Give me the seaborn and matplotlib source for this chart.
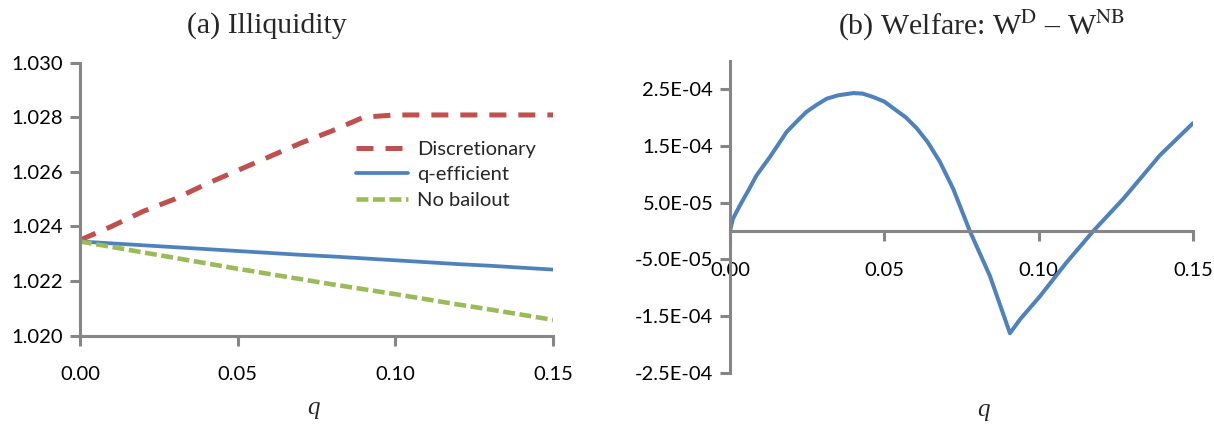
import numpy as np
import pandas as pd
import matplotlib
matplotlib.use("Agg")
import matplotlib.pyplot as plt
import seaborn as sns
from matplotlib.ticker import FuncFormatter, FixedLocator

# Dados (a) Iliquidez
q_grid = [0.00, 0.01, 0.02, 0.03, 0.04, 0.05, 0.06, 0.07,
          0.08, 0.09, 0.10, 0.11, 0.12, 0.13, 0.14, 0.15]
discretionary = [1.02350, 1.02400, 1.02455, 1.02500, 1.02555, 1.02605, 1.02655, 1.02705,
                 1.02750, 1.02800, 1.02808, 1.02808, 1.02808, 1.02808, 1.02808, 1.02808]
q_efficient = [1.02345, 1.02338, 1.02331, 1.02324, 1.02317, 1.02310, 1.02303, 1.02296,
               1.02290, 1.02283, 1.02276, 1.02269, 1.02262, 1.02256, 1.02249, 1.02242]
no_bailout = [1.02345, 1.02325, 1.02305, 1.02285, 1.02265, 1.02245, 1.02226, 1.02207,
              1.02188, 1.02170, 1.02152, 1.02133, 1.02114, 1.02096, 1.02077, 1.02058]

# Dados (b) Bem-estar W^D - W^NB
q_welfare = [0.0000, 0.0009, 0.0032, 0.0060, 0.0086, 0.0130, 0.0184, 0.0220, 0.0248,
             0.0280, 0.0313, 0.0350, 0.0400, 0.0430, 0.0464, 0.0500, 0.0540, 0.0570,
             0.0605, 0.0640, 0.0680, 0.0723, 0.0777, 0.0842, 0.0907, 0.0939, 0.1004,
             0.1090, 0.1177, 0.1274, 0.1393, 0.1500]
welfare = [0.00e-4, 0.21e-4, 0.45e-4, 0.72e-4, 0.98e-4, 1.31e-4, 1.75e-4, 1.95e-4, 2.10e-4,
           2.22e-4, 2.33e-4, 2.39e-4, 2.43e-4, 2.42e-4, 2.36e-4, 2.28e-4, 2.12e-4, 2.00e-4,
           1.81e-4, 1.57e-4, 1.22e-4, 0.745e-4, 0.00e-4, -0.79e-4, -1.80e-4, -1.56e-4,
           -1.15e-4, -0.555e-4, 0.00e-4, 0.567e-4, 1.335e-4, 1.90e-4]

x_ticks = [0.00, 0.05, 0.10, 0.15]
y_ticks_a = [1.020, 1.022, 1.024, 1.026, 1.028, 1.030]
y_ticks_b = [-2.5e-4, -1.5e-4, -5.0e-5, 5.0e-5, 1.5e-4, 2.5e-4]

RED = "#C0504D"
BLUE = "#4F81BD"
GREEN = "#9BBB59"
GRAY = "#868686"

sns.set_style("white")
plt.rcParams["font.family"] = ["Lato", "DejaVu Sans"]
plt.rcParams["mathtext.fontset"] = "stix"

df_a = pd.DataFrame({"q": q_grid, "Discretionary": discretionary,
                     "q-efficient": q_efficient, "No bailout": no_bailout})
df_b = pd.DataFrame({"q": q_welfare, "welfare": welfare})

W, H = 1214, 425
fig = plt.figure(figsize=(W / 100, H / 100), dpi=100)
ax1 = fig.add_axes([80 / W, (H - 335.7) / H, 473 / W, 273.2 / H])
ax2 = fig.add_axes([730 / W, (H - 373) / H, 463 / W, 312.3 / H])

# Painel (a)
sns.lineplot(x="q", y="Discretionary", data=df_a, ax=ax1, color=RED, lw=3.6,
             label="Discretionary")
sns.lineplot(x="q", y="q-efficient", data=df_a, ax=ax1, color=BLUE, lw=2.7,
             label="q-efficient")
sns.lineplot(x="q", y="No bailout", data=df_a, ax=ax1, color=GREEN, lw=3.3,
             label="No bailout")
lines = ax1.get_lines()
lines[0].set_linestyle((0, (3.4, 2.4)))
lines[2].set_linestyle((0, (2.6, 1.0)))

ax1.set_xlim(0, 0.15)
ax1.set_ylim(1.020, 1.030)
ax1.xaxis.set_major_locator(FixedLocator(x_ticks))
ax1.yaxis.set_major_locator(FixedLocator(y_ticks_a))
ax1.xaxis.set_major_formatter(FuncFormatter(lambda v, p: f"{v:.2f}"))
ax1.yaxis.set_major_formatter(FuncFormatter(lambda v, p: f"{v:.3f}"))
ax1.set_xlabel("")
ax1.set_ylabel("")
leg = ax1.legend(loc="upper left", bbox_to_anchor=(276 / 473, 1 - 78 / 273.2), frameon=False,
                 fontsize=14.5, handlelength=2.6, handletextpad=0.45, labelspacing=0.42,
                 borderaxespad=0, borderpad=0)
for h in leg.get_lines():
    h.set_solid_capstyle("round")

# Painel (b)
sns.lineplot(x="q", y="welfare", data=df_b, ax=ax2, color=BLUE, lw=2.9)
ax2.set_xlim(0, 0.15)
ax2.set_ylim(-2.5e-4, 3.0e-4)
ax2.xaxis.set_major_locator(FixedLocator(x_ticks))
ax2.yaxis.set_major_locator(FixedLocator(y_ticks_b))
ax2.xaxis.set_major_formatter(FuncFormatter(lambda v, p: f"{v:.2f}"))
ax2.yaxis.set_major_formatter(FuncFormatter(lambda v, p: f"{v:.1E}"))
ax2.spines["bottom"].set_position(("data", 0))
ax2.set_xlabel("")
ax2.set_ylabel("")

for ax in (ax1, ax2):
    for side in ("top", "right"):
        ax.spines[side].set_visible(False)
    for side in ("left", "bottom"):
        ax.spines[side].set_color(GRAY)
        ax.spines[side].set_linewidth(2.2)
    ax.tick_params(axis="both", which="major", direction="out", length=7, width=2.2,
                   color=GRAY, labelsize=14.5, labelcolor="black", bottom=True, left=True)
    ax.tick_params(axis="x", pad=15)
    ax.tick_params(axis="y", pad=5)
    for ln in ax.get_lines():
        ln.set_solid_capstyle("round")
        ln.set_solid_joinstyle("round")

# Títulos e rótulos do eixo x
serif = ["Liberation Serif", "DejaVu Serif"]
fig.text(267 / W, 1 - 26 / H, "(a) Illiquidity", ha="center", va="center",
         family=serif, fontsize=21.5)
fig.text(982 / W, 1 - 26 / H, r"(b) Welfare: W$^{\mathrm{D}}$ – W$^{\mathrm{NB}}$",
         ha="center", va="center", family=serif, fontsize=21.5)
fig.text(313 / W, 1 - 408 / H, "q", ha="center", va="center", family=serif,
         style="italic", fontsize=18)
fig.text(983 / W, 1 - 410 / H, "q", ha="center", va="center", family=serif,
         style="italic", fontsize=18)

fig.savefig("out.png", dpi=100)
